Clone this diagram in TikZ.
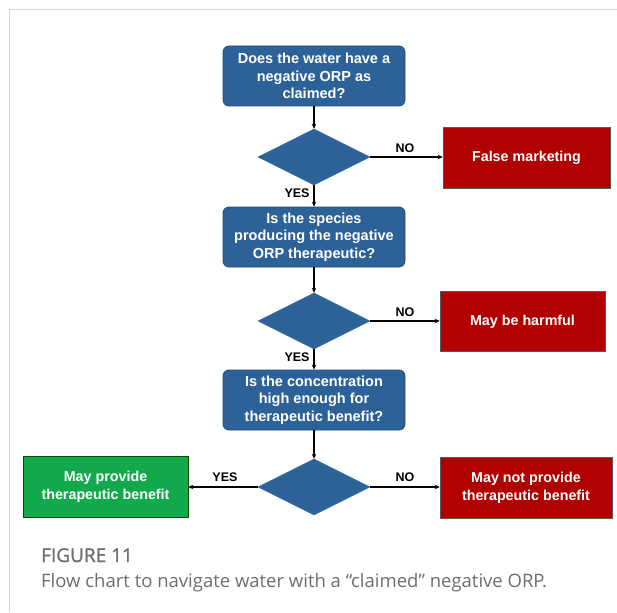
\documentclass[tikz,border=0pt]{standalone}
\usepackage{fontspec}
\setmainfont{Liberation Sans}
\newfontfamily\capfont{Open Sans}
\newfontfamily\capfontb[FakeBold=1.2]{Open Sans}
\usetikzlibrary{shapes.geometric,arrows.meta}
\definecolor{qblue}{HTML}{2D6299}
\definecolor{qblueb}{HTML}{1F4A78}
\definecolor{qred}{HTML}{B00000}
\definecolor{qgreen}{HTML}{12A84C}
\definecolor{qframe}{HTML}{D4D4D4}
\definecolor{qcap}{HTML}{6E6E6E}
\tikzset{
  qbox/.style={draw=qblueb, line width=0.8pt, fill=qblue, rounded corners=6pt, text=white,
    minimum width=182pt, minimum height=60pt, align=center, inner sep=0pt,
    font=\bfseries\fontsize{14.5}{17.5}\selectfont},
  qdia/.style={diamond, draw=qblue, fill=qblue, minimum width=112pt, minimum height=56pt, inner sep=0pt},
  qend/.style={draw=gray!70!black, line width=0.6pt, text=white, align=center, inner sep=0pt,
    minimum height=61pt, font=\bfseries\fontsize{14.3}{17.5}\selectfont},
  qarrow/.style={draw=black, line width=1.2pt, -{Stealth[length=5pt,width=4.5pt]}},
  qlab/.style={font=\bfseries\fontsize{12.5}{14}\selectfont, text=black, inner sep=0pt}
}
\begin{document}
\begin{tikzpicture}[x=1pt,y=-1pt]
\useasboundingbox (0,0) rectangle (617,612);
\fill[white] (0,0) rectangle (617,612);
\draw[qframe, line width=1pt] (9,612) -- (9,10) -- (617,10);

\node[qbox] (b1) at (314,76) {Does the water have a\\negative ORP as\\claimed?};
\node[qdia] (d1) at (314,157) {};
\node[qend, fill=qred, minimum width=167pt] (r1) at (526.5,157.5) {False marketing};

\node[qbox] (b2) at (314,237) {Is the species\\producing the negative\\ORP therapeutic?};
\node[qdia] (d2) at (314,321) {};
\node[qend, fill=qred, minimum width=165pt, minimum height=60pt] (r2) at (522.5,321.5) {May be harmful};

\node[qbox] (b3) at (314,400) {Is the concentration\\high enough for\\therapeutic benefit?};
\node[qdia] (d3) at (314,487) {};
\node[qend, fill=qred, minimum width=172pt] (r3) at (526,488) {May not provide\\therapeutic benefit};
\node[qend, fill=qgreen, draw=green!30!black, minimum width=165pt] (g3) at (105.5,487) {May provide\\therapeutic benefit};

\draw[qarrow] (b1) -- (d1);
\draw[qarrow] (d1.east) -- (d1.east -| r1.west);
\draw[qarrow] (d1) -- (b2);
\draw[qarrow] (b2) -- (d2);
\draw[qarrow] (d2.east) -- (d2.east -| r2.west);
\draw[qarrow] (d2) -- (b3);
\draw[qarrow] (b3) -- (d3);
\draw[qarrow] (d3.east) -- (d3.east -| r3.west);
\draw[qarrow] (d3.west) -- (d3.west -| g3.east);

\node[qlab] (n1) at (405,148) {NO};
\node[qlab] (y1) at (297,193) {YES};
\node[qlab] (n2) at (405,312) {NO};
\node[qlab] (y2) at (297,357) {YES};
\node[qlab] (y3) at (225,477) {YES};
\node[qlab] (n3) at (405,477) {NO};

\node[anchor=base west, inner sep=0pt, text=qcap, font=\capfontb\fontsize{19}{20}\selectfont] (cap1) at (41,562) {FIGURE 11};
\node[anchor=base west, inner sep=0pt, text=qcap, font=\capfont\fontsize{18.5}{20}\selectfont] (cap2) at (41,587) {Flow chart to navigate water with a “claimed” negative ORP.};
\end{tikzpicture}
\end{document}
